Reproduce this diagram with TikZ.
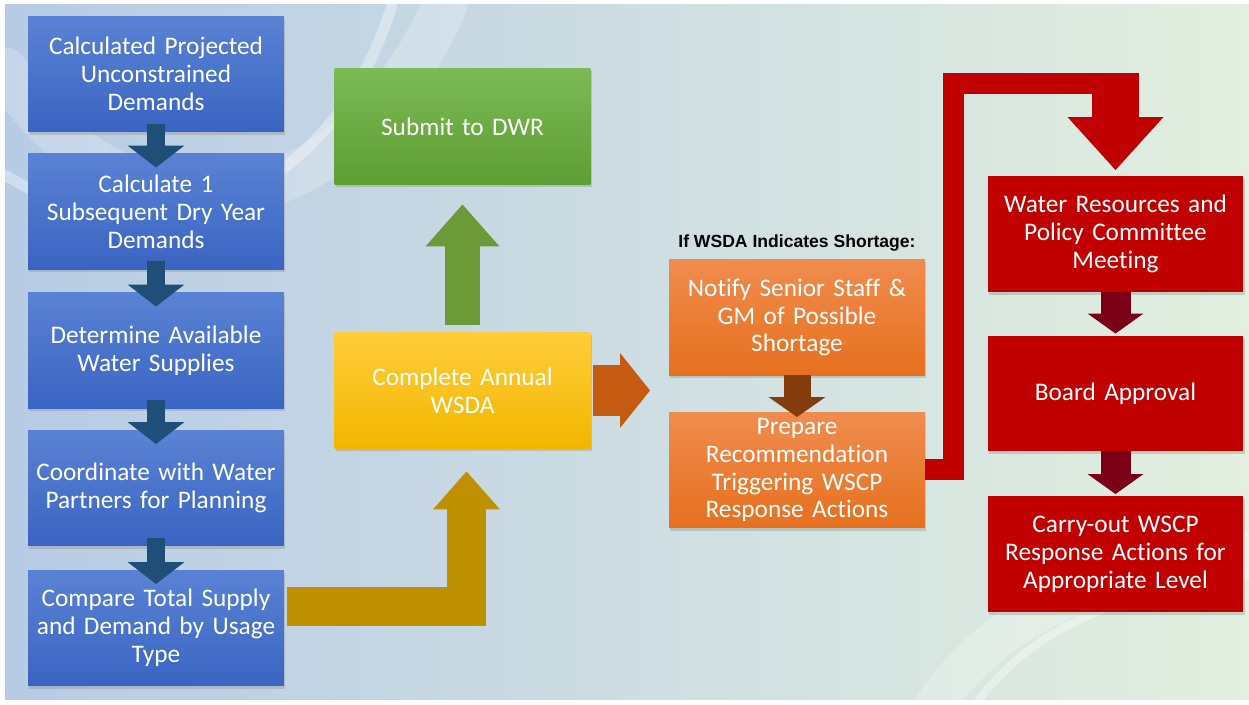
\documentclass[tikz,border=0pt]{standalone}
\usepackage{fontspec}
\setmainfont{Carlito}[Ligatures=NoCommon]
\newfontfamily\notefont{Liberation Sans}
\usetikzlibrary{arrows.meta,calc,shadows}

\definecolor{bgleft}{HTML}{B7CBE5}
\definecolor{bgmid}{HTML}{CADAE1}
\definecolor{bgright}{HTML}{E3EFDF}
\definecolor{bluetop}{HTML}{5A82D4}
\definecolor{bluebot}{HTML}{3A64C2}
\definecolor{bluearr}{HTML}{1F4E79}
\definecolor{greentop}{HTML}{7CBA56}
\definecolor{greenbot}{HTML}{5E9E32}
\definecolor{greenarr}{HTML}{6B9A37}
\definecolor{yellowtop}{HTML}{FFCD3A}
\definecolor{yellowbot}{HTML}{F2B600}
\definecolor{goldarr}{HTML}{BF9000}
\definecolor{orangearr}{HTML}{C55A11}
\definecolor{orangetop}{HTML}{F08C4E}
\definecolor{orangebot}{HTML}{E6701E}
\definecolor{brownarr}{HTML}{843C0C}
\definecolor{boxred}{HTML}{C00000}
\definecolor{darkredarr}{HTML}{7B0016}

\tikzset{
  box/.style={minimum width=5.12cm, minimum height=2.32cm, inner sep=0pt, outer sep=0pt,
    text width=4.9cm, align=center, text=white, font=\fontsize{14.4}{15.9}\selectfont,
    drop shadow={shadow xshift=0.6pt, shadow yshift=-1.5pt, opacity=0.3}},
  bluebox/.style={box, top color=bluetop, bottom color=bluebot},
  greenbox/.style={box, top color=greentop, bottom color=greenbot},
  yellowbox/.style={box, top color=yellowtop, bottom color=yellowbot},
  orangebox/.style={box, top color=orangetop, bottom color=orangebot},
  redbox/.style={box, fill=boxred},
  bluearrow/.style={draw=bluearr, line width=0.38cm, -{Triangle[width=1.14cm,length=0.44cm,line width=0pt]},
    shorten <=-0.16cm, shorten >=-0.28cm},
  darkredarrow/.style={draw=darkredarr, line width=0.6cm, -{Triangle[width=1.12cm,length=0.4cm,line width=0pt]},
    shorten >=0.04cm},
  swoosh/.style={white, line cap=round}
}

\begin{document}
\begin{tikzpicture}[x=0.02cm, y=-0.02cm]
\fill[white] (0,0) rectangle (1249,705);
\shade[left color=bgleft, middle color=bgmid, right color=bgright] (5,5) rectangle (1249,700);
\begin{scope}
\clip (5,5) rectangle (1249,700);
\draw[swoosh, opacity=0.22, line width=0.9cm] (5,70) .. controls (120,250) and (340,240) .. (445,5);
\draw[swoosh, opacity=0.35, line width=0.22cm] (5,175) .. controls (150,265) and (330,205) .. (392,5);
\draw[swoosh, opacity=0.25, line width=0.8cm] (935,705) .. controls (1000,610) and (1100,575) .. (1249,550);
\draw[swoosh, opacity=0.35, line width=0.16cm] (975,705) .. controls (1030,630) and (1110,595) .. (1249,575);
\end{scope}

\node[bluebox] (calc1) at (156,74) {Calculated Projected\\Unconstrained\\Demands};
\node[bluebox] (calc2) at (156,211.5) {Calculate 1\\Subsequent Dry Year\\Demands};
\node[bluebox] (supply) at (156,350.5) {Determine Available\\Water Supplies};
\node[bluebox] (coord) at (156,488) {Coordinate with Water\\Partners for Planning};
\node[bluebox] (compare) at (156,628) {Compare Total Supply\\and Demand by Usage\\Type};

\node[greenbox] (submit) at (462.5,126.5) {Submit to DWR};
\node[yellowbox] (wsda) at (462.5,390.5) {Complete Annual\\WSDA};

\node[font=\notefont\bfseries\fontsize{10}{12}\selectfont] (ifnote) at (797,243) {If WSDA Indicates Shortage:};
\node[orangebox] (notify) at (797,317.5) {Notify Senior Staff \&\\GM of Possible\\Shortage};
\node[orangebox] (prepare) at (797,470) {Prepare\\Recommendation\\Triggering WSCP\\Response Actions};

\node[redbox] (meeting) at (1115.5,234) {Water Resources and\\Policy Committee\\Meeting};
\node[redbox] (board) at (1115.5,393.5) {Board Approval};
\node[redbox] (carry) at (1115.5,554) {Carry-out WSCP\\Response Actions for\\Appropriate Level};

\draw[bluearrow] (calc1) -- (calc2);
\draw[bluearrow] (calc2) -- (supply);
\draw[bluearrow] (supply) -- (coord);
\draw[bluearrow] (coord) -- (compare);

\draw[goldarr, line width=0.78cm, line join=miter, -{Triangle[width=1.34cm,length=0.76cm,line width=0pt]},
  shorten >=0.46cm] ($(compare.east)+(3,-21.5)$) -| ($(wsda.south)+(4,0)$);
\draw[greenarr, line width=0.7cm, -{Triangle[width=1.48cm,length=0.84cm,line width=0pt]},
  shorten <=0.16cm, shorten >=0.4cm] (wsda.north) -- (submit.south);
\draw[orangearr, line width=1.04cm, -{Triangle[width=1.5cm,length=0.6cm,line width=0pt]},
  shorten <=0.06cm, shorten >=0.38cm] (wsda.east) -- (notify.west |- wsda.east);
\draw[brownarr, line width=0.54cm, -{Triangle[width=1.14cm,length=0.4cm,line width=0pt]},
  shorten >=-0.1cm] (notify.south) -- (prepare.north);

\draw[boxred, line width=0.42cm, line join=miter] (prepare.east) -- ++(29,0) |- ($(meeting.north)+(0,-93)$);
\draw[boxred, line width=0.94cm, -{Triangle[width=1.92cm,length=1.06cm,line width=0pt]},
  shorten >=0.12cm] ($(meeting.north)+(0,-103)$) -- (meeting.north);

\draw[darkredarrow] (meeting) -- (board);
\draw[darkredarrow] (board) -- (carry);
\end{tikzpicture}
\end{document}
